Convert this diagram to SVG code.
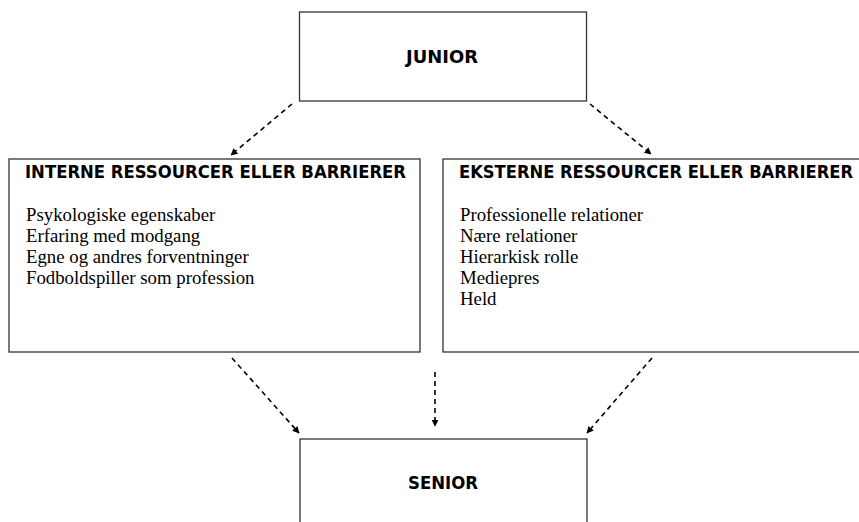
<svg xmlns="http://www.w3.org/2000/svg" width="859" height="522" viewBox="0 0 859 522">
<style>
.box{fill:#fff;stroke:#333;stroke-width:1.3}
.hd{font-family:"DejaVu Sans Condensed","DejaVu Sans",sans-serif;font-weight:bold;font-size:17.5px;fill:#000}
.tx{font-family:"Liberation Serif",serif;font-size:18.8px;fill:#000}
.con line{stroke:#000;stroke-width:1.6;stroke-dasharray:5 4;marker-end:url(#ah)}
</style>
<defs>
<marker id="ah" viewBox="0 0 10 10" refX="9" refY="5" markerWidth="7" markerHeight="7" markerUnits="userSpaceOnUse" orient="auto">
<path d="M0,0 L10,5 L0,10 z" fill="#000"/>
</marker>
</defs>
<rect width="859" height="522" fill="#fff"/>
<g id="junior">
<rect class="box" x="299.5" y="12" width="287" height="89"/>
<text class="hd" x="442" y="63" text-anchor="middle" textLength="72" lengthAdjust="spacingAndGlyphs">JUNIOR</text>
</g>
<g id="interne">
<rect class="box" x="9" y="159" width="411" height="193"/>
<text class="hd" x="25" y="177.5" textLength="381" lengthAdjust="spacingAndGlyphs">INTERNE RESSOURCER ELLER BARRIERER</text>
<text class="tx" x="26" y="220.5">Psykologiske egenskaber</text>
<text class="tx" x="26" y="241.5">Erfaring med modgang</text>
<text class="tx" x="26" y="262.5">Egne og andres forventninger</text>
<text class="tx" x="26" y="283.5">Fodboldspiller som profession</text>
</g>
<g id="eksterne">
<rect class="box" x="443" y="159" width="430" height="193"/>
<text class="hd" x="459" y="177.5" textLength="394" lengthAdjust="spacingAndGlyphs">EKSTERNE RESSOURCER ELLER BARRIERER</text>
<text class="tx" x="460" y="220.5">Professionelle relationer</text>
<text class="tx" x="460" y="241.5">Nære relationer</text>
<text class="tx" x="460" y="262.5">Hierarkisk rolle</text>
<text class="tx" x="460" y="283.5">Mediepres</text>
<text class="tx" x="460" y="304.5">Held</text>
</g>
<g id="senior">
<rect class="box" x="300" y="439" width="287" height="100"/>
<text class="hd" x="443" y="489" text-anchor="middle" textLength="70" lengthAdjust="spacingAndGlyphs">SENIOR</text>
</g>
<g class="con" id="connectors">
<line x1="292" y1="104" x2="231" y2="155"/>
<line x1="590" y1="104" x2="651" y2="154"/>
<line x1="232" y1="358" x2="299" y2="433"/>
<line x1="435" y1="372" x2="435" y2="426"/>
<line x1="652" y1="358" x2="587" y2="433"/>
</g>
</svg>
